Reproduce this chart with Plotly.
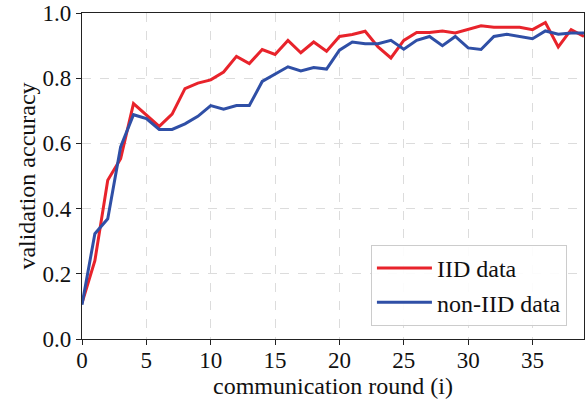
import plotly.graph_objects as go

rounds = list(range(40))
iid_acc = [0.11, 0.24, 0.487, 0.553, 0.722, 0.686, 0.652, 0.69, 0.768, 0.785,
           0.795, 0.819, 0.867, 0.845, 0.888, 0.873, 0.916, 0.878, 0.911, 0.883,
           0.928, 0.934, 0.944, 0.896, 0.862, 0.916, 0.94, 0.94, 0.945, 0.939,
           0.949, 0.961, 0.956, 0.956, 0.956, 0.949, 0.971, 0.896, 0.949, 0.928]
noniid_acc = [0.105, 0.323, 0.369, 0.589, 0.688, 0.676, 0.643, 0.643, 0.66, 0.683,
              0.716, 0.705, 0.716, 0.716, 0.79, 0.812, 0.835, 0.822, 0.833, 0.828,
              0.886, 0.911, 0.906, 0.906, 0.916, 0.889, 0.916, 0.928, 0.9, 0.928,
              0.893, 0.888, 0.928, 0.935, 0.928, 0.921, 0.945, 0.935, 0.939, 0.939]
x_ticks = [0, 5, 10, 15, 20, 25, 30, 35]
y_ticks = [0.0, 0.2, 0.4, 0.6, 0.8, 1.0]

FONT = "Liberation Serif"
TXT = "#111111"

fig = go.Figure()
fig.add_trace(go.Scatter(x=rounds, y=iid_acc, mode="lines", name="IID data",
                         line=dict(color="#e8232b", width=3)))
fig.add_trace(go.Scatter(x=rounds, y=noniid_acc, mode="lines", name="non-IID data",
                         line=dict(color="#2f4fa6", width=3)))

axis_common = dict(
    showline=True, linecolor="#222222", linewidth=1.3, mirror=True,
    ticks="outside", ticklen=5, tickwidth=1.2, tickcolor="#222222",
    showgrid=True, gridcolor="#dcdcdc", griddash="dash", gridwidth=1,
    zeroline=False,
    tickfont=dict(family=FONT, size=23, color=TXT),
)

fig.update_xaxes(range=[0, 39], tickvals=x_ticks, ticklabelstandoff=-5,
                 title=dict(text="communication round (i)", standoff=0,
                            font=dict(family=FONT, size=24, color=TXT)),
                 **axis_common)
fig.update_yaxes(range=[0, 1.0], tickvals=y_ticks, tickformat=".1f",
                 title=dict(text="validation accuracy", standoff=0,
                            font=dict(family=FONT, size=24, color=TXT)),
                 **axis_common)

fig.update_layout(
    width=586, height=401,
    margin=dict(l=82, r=2, t=13, b=62),
    plot_bgcolor="white", paper_bgcolor="white",
    font=dict(family=FONT, size=24, color=TXT),
    legend=dict(x=0.966, y=0.04, xanchor="right", yanchor="bottom",
                bgcolor="rgba(255,255,255,0.9)", bordercolor="#cccccc", borderwidth=1,
                font=dict(family=FONT, size=24, color=TXT),
                itemwidth=55, tracegroupgap=0),
    showlegend=True,
)

fig.write_html("out.html")
